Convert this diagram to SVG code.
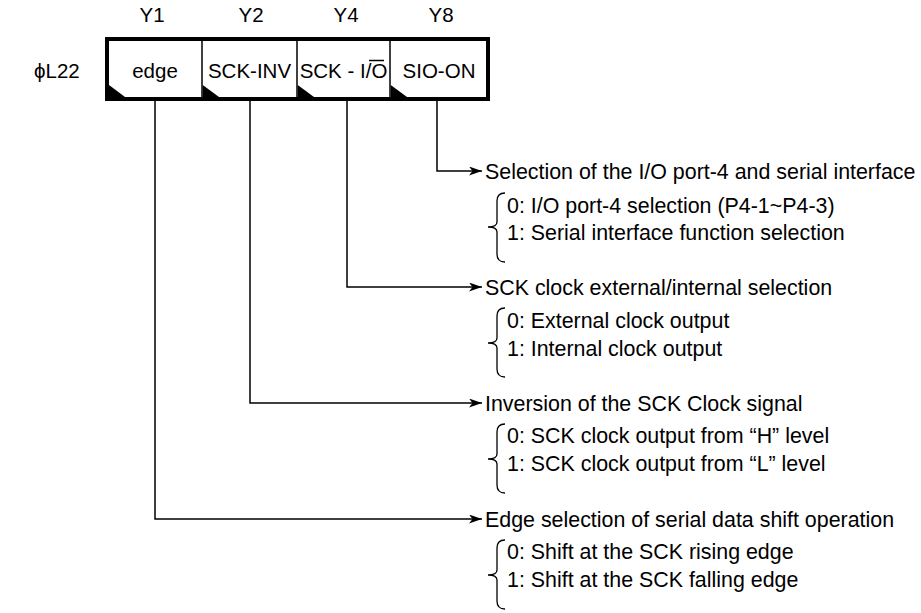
<svg xmlns="http://www.w3.org/2000/svg" width="921" height="613" viewBox="0 0 921 613">
<defs>
<style>
text{font-family:"Liberation Sans",Arial,sans-serif;font-size:21.4px;fill:#000}
.c{text-anchor:middle}
.b{font-size:20.5px}
.ln{fill:none;stroke:#000;stroke-width:1.5}
.br{fill:none;stroke:#000;stroke-width:1.3}
.tri{fill:#000}
</style>
<marker id="ah" viewBox="0 0 13 9" refX="13" refY="4.5" markerWidth="13" markerHeight="9" markerUnits="userSpaceOnUse" orient="auto">
<path d="M0,0 L13,4.5 L0,9 L3.5,4.5 Z" fill="#000"/>
</marker>
</defs>
<rect width="921" height="613" fill="#fff"/>
<g id="header">
<text class="c b" x="152" y="22">Y1</text>
<text class="c b" x="251" y="22">Y2</text>
<text class="c b" x="346" y="22">Y4</text>
<text class="c b" x="441" y="22">Y8</text>
<text class="b" x="34" y="77.5">ϕL22</text>
</g>
<g id="register">
<rect x="107" y="39" width="381" height="60" fill="#fff" stroke="#000" stroke-width="4"/>
<line class="ln" x1="202" y1="41" x2="202" y2="97"/>
<line class="ln" x1="297" y1="41" x2="297" y2="97"/>
<line class="ln" x1="390" y1="41" x2="390" y2="97"/>
<polygon class="tri" points="109,85 109,97 125,97"/>
<polygon class="tri" points="202.7,85 202.7,97 219,97"/>
<polygon class="tri" points="297.7,85 297.7,97 314,97"/>
<polygon class="tri" points="390.7,85 390.7,97 407,97"/>
</g>
<g id="cell-edge"><text class="c b" x="155" y="77.5">edge</text></g>
<g id="cell-sckinv"><text class="c b" x="249.5" y="77.5">SCK-INV</text></g>
<g id="cell-sckio"><text class="c b" x="343.5" y="77.5">SCK - I/O</text><line x1="369" y1="60.5" x2="384" y2="60.5" stroke="#000" stroke-width="1.5"/></g>
<g id="cell-sioon"><text class="c b" x="439" y="77.5">SIO-ON</text></g>
<g id="connectors">
<polyline class="ln" points="437,101 437,171 482,171" marker-end="url(#ah)"/>
<polyline class="ln" points="347,101 347,287 482,287" marker-end="url(#ah)"/>
<polyline class="ln" points="250,101 250,403 482,403" marker-end="url(#ah)"/>
<polyline class="ln" points="155,101 155,519 482,519" marker-end="url(#ah)"/>
</g>
<g id="desc-sio">
<text x="485" y="178.5">Selection of the I/O port-4 and serial interface</text>
<path class="br" d="M505,193 Q497,193 497,201 L497,222 Q497,227 488,227 Q497,227 497,232 L497,254 Q497,262 505,262"/>
<text x="507" y="212.5">0: I/O port-4 selection (P4-1~P4-3)</text>
<text x="507" y="239.5">1: Serial interface function selection</text>
</g>
<g id="desc-sckio">
<text x="485" y="294.5">SCK clock external/internal selection</text>
<path class="br" d="M505,308 Q497,308 497,316 L497,338 Q497,343 488,343 Q497,343 497,348 L497,369 Q497,377 505,377"/>
<text x="507" y="327.5">0: External clock output</text>
<text x="507" y="355.5">1: Internal clock output</text>
</g>
<g id="desc-sckinv">
<text x="485" y="410.5">Inversion of the SCK Clock signal</text>
<path class="br" d="M505,424 Q497,424 497,432 L497,454 Q497,459 488,459 Q497,459 497,464 L497,485 Q497,493 505,493"/>
<text x="507" y="442.5">0: SCK clock output from “H” level</text>
<text x="507" y="470.5">1: SCK clock output from “L” level</text>
</g>
<g id="desc-edge">
<text x="485" y="526.5">Edge selection of serial data shift operation</text>
<path class="br" d="M505,540 Q497,540 497,548 L497,570 Q497,575 488,575 Q497,575 497,580 L497,601 Q497,609 505,609"/>
<text x="507" y="558.5">0: Shift at the SCK rising edge</text>
<text x="507" y="586.5">1: Shift at the SCK falling edge</text>
</g>
</svg>
